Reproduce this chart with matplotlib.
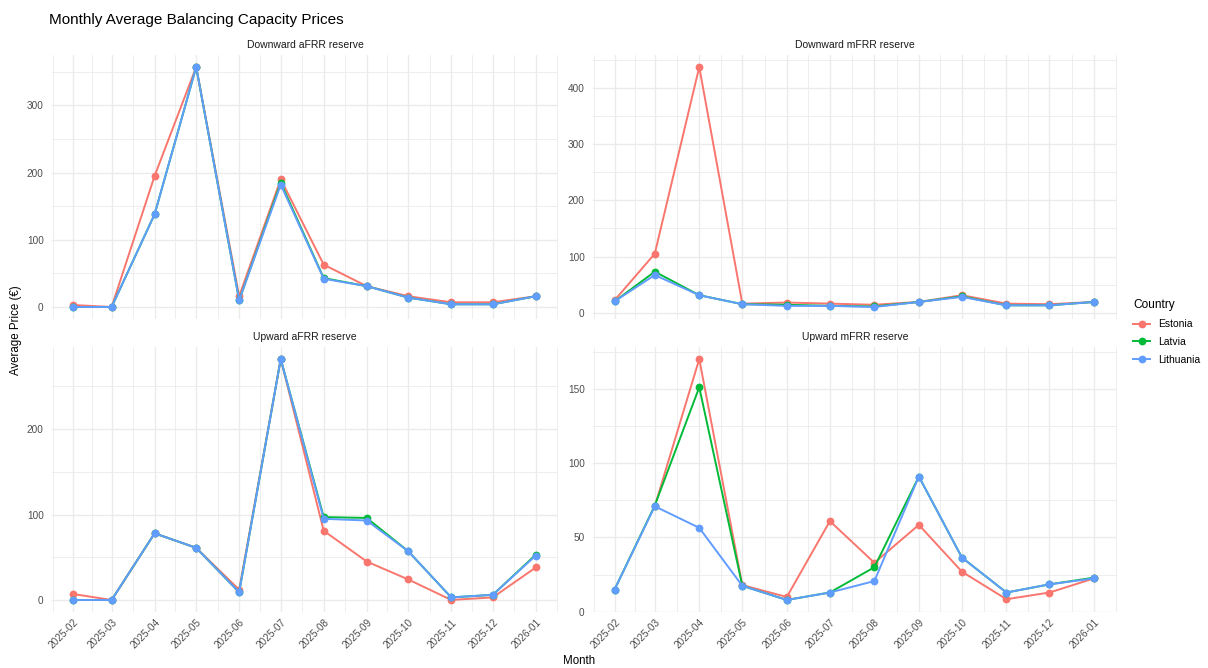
import numpy as np
import matplotlib
matplotlib.use('Agg')
import matplotlib.pyplot as plt
import matplotlib.dates as mdates
from matplotlib.lines import Line2D
from matplotlib.ticker import AutoMinorLocator
import datetime as dt

plt.rcParams['font.family'] = ['Liberation Sans', 'DejaVu Sans']

months = ['2025-02', '2025-03', '2025-04', '2025-05', '2025-06', '2025-07',
          '2025-08', '2025-09', '2025-10', '2025-11', '2025-12', '2026-01']
countries = ['Estonia', 'Latvia', 'Lithuania']
colors = ['#F8766D', '#00BA38', '#619CFF']
facets = ['Downward aFRR reserve', 'Downward mFRR reserve',
          'Upward aFRR reserve', 'Upward mFRR reserve']
nan = np.nan

# Downward aFRR
down_afrr_ee = [3, 0, 195, 357, 16, 190, 63, 31, 16, 7, 7, 16]
down_afrr_lv = [0, 0, 138, 357, 10, 185, 43, 31, 14, 4, 4, 16]
down_afrr_lt = [0, 0, 138, 357, 10, 182, 42, 31, 14, 4, 4, 16]
# Downward mFRR
down_mfrr_ee = [22, 105, 438, 16, 18, 16, 14, 19, 31, 16, 15, 19]
down_mfrr_lv = [20, 73, 31, 15, 14, 12, 11, 19, 29, 13, 13, 19]
down_mfrr_lt = [20, 67, 31, 15, 12, 12, 10, 19, 28, 13, 13, 19]
# Upward aFRR
up_afrr_ee = [7, 0, 78, 61, 12, 282, 81, 45, 24, 0, 3, 38]
up_afrr_lv = [0, 0, 78, 61, 9, 282, 97, 96, 57, 3, 6, 53]
up_afrr_lt = [0, 0, 78, 61, 9, 282, 95, 93, 57, 3, 6, 52]
# Upward mFRR
up_mfrr_ee = [nan, 71, 170, 18, 10, 61, 33, 58.5, 27, 8.5, 13, 22.5]
up_mfrr_lv = [15, 71.5, 151, 17.5, 8, 13, 30, 91, 36.5, 13, 18.5, 23]
up_mfrr_lt = [15, 71, 56.5, 17.5, 8, 13, 20.7, 91, 36.5, 13, 18.5, 22.5]

series = [
    [down_afrr_ee, down_afrr_lv, down_afrr_lt],
    [down_mfrr_ee, down_mfrr_lv, down_mfrr_lt],
    [up_afrr_ee, up_afrr_lv, up_afrr_lt],
    [up_mfrr_ee, up_mfrr_lv, up_mfrr_lt],
]
yticks = [[0, 100, 200, 300], [0, 100, 200, 300, 400],
          [0, 100, 200], [0, 50, 100, 150]]

dates = [dt.datetime.strptime(m + '-01', '%Y-%m-%d') for m in months]
dnum = mdates.date2num(dates)
# minor breaks halfway between months, plus one outside each end
minor = list((dnum[:-1] + dnum[1:]) / 2)
minor = [dnum[0] - (dnum[1] - dnum[0]) / 2] + minor + [dnum[-1] + (dnum[-1] - dnum[-2]) / 2]

W, H = 1208, 668
fig = plt.figure(figsize=(W / 100, H / 100), dpi=100)

def box(l, t, r, b):
    return [l / W, 1 - b / H, (r - l) / W, (b - t) / H]

boxes = [box(52, 55, 558, 319), box(593, 55, 1117, 319),
         box(52, 347, 558, 612), box(593, 347, 1117, 612)]

grid_c = '#EBEBEB'
for i, (title, data) in enumerate(zip(facets, series)):
    ax = fig.add_axes(boxes[i])
    for vals, c in zip(data, colors):
        ax.plot(dnum, vals, color=c, lw=1.4, marker='o', ms=4.6, zorder=3)
    ax.set_xticks(dnum)
    ax.set_xticks(minor, minor=True)
    span = dnum[-1] - dnum[0]
    ax.set_xlim(dnum[0] - 0.045 * span, dnum[-1] + 0.048 * span)
    ax.set_yticks(yticks[i])
    ax.yaxis.set_minor_locator(AutoMinorLocator(2))
    ax.margins(y=0.05)
    ax.grid(True, which='major', color=grid_c, lw=1.0, zorder=0)
    ax.grid(True, which='minor', color=grid_c, lw=0.6, zorder=0)
    ax.set_axisbelow(True)
    for s in ax.spines.values():
        s.set_visible(False)
    ax.tick_params(which='both', length=0, labelsize=7.2, labelcolor='#4D4D4D')
    ax.tick_params(axis='y', pad=6)
    if i < 2:
        ax.set_xticklabels([])
    else:
        ax.set_xticklabels(months, rotation=45, ha='right', rotation_mode='anchor')
        ax.tick_params(axis='x', pad=4)
    ax.set_title(title, fontsize=7.5, color='#1A1A1A', pad=5)

fig.text(49 / W, 1 - 20 / H, 'Monthly Average Balancing Capacity Prices',
         fontsize=11, ha='left', va='center')
fig.text(579 / W, 1 - 661 / H, 'Month', fontsize=8.3, ha='center', va='center')
fig.text(16 / W, 1 - 330 / H, 'Average Price (€)', fontsize=8.3, rotation=90,
         ha='center', va='center')

handles = [Line2D([], [], color=c, lw=1.4, marker='o', ms=4.6) for c in colors]
leg = fig.legend(handles, countries, loc='upper left',
                 bbox_to_anchor=(1124 / W, 1 - 290 / H), frameon=False,
                 title='Country', fontsize=7.5, title_fontsize=8.6,
                 handlelength=1.6, handletextpad=0.8, labelspacing=0.75)
leg._legend_box.align = 'left'

fig.savefig('out.png', dpi=100)
